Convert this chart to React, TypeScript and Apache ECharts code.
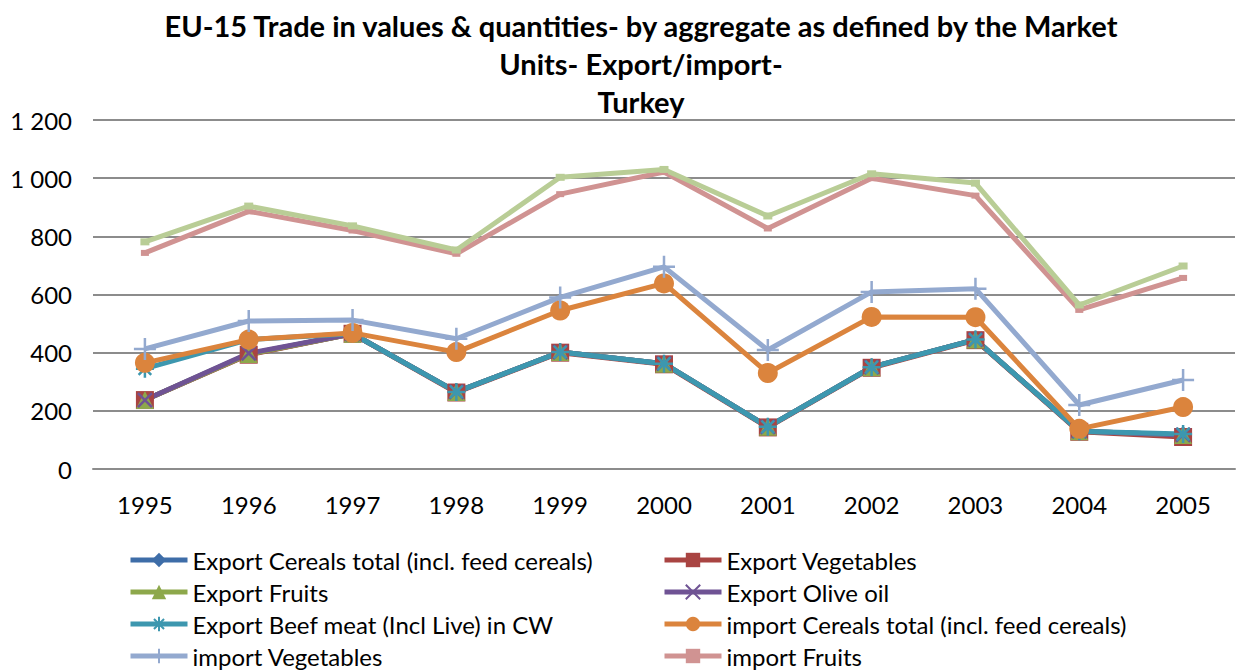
import React, { useEffect, useRef } from "react";
import * as echarts from "echarts";

const years = ["1995", "1996", "1997", "1998", "1999", "2000", "2001", "2002", "2003", "2004", "2005"];
const exportCereals = [237, 395, 465, 265, 402, 362, 145, 350, 445, 130, 117];
const exportVegetables = [237, 393, 465, 263, 400, 360, 143, 348, 443, 128, 110];
const exportFruits = [237, 395, 465, 265, 402, 362, 145, 350, 445, 130, 117];
const exportOliveOil = [237, 398, 465, 265, 402, 362, 145, 350, 445, 130, 117];
const exportBeef = [345, 445, 465, 265, 402, 362, 145, 350, 445, 130, 120];
const importCereals = [365, 445, 468, 402, 545, 638, 330, 523, 522, 138, 213];
const importVegetables = [413, 509, 512, 448, 590, 695, 409, 609, 620, 220, 306];
const importFruits = [743, 886, 820, 740, 945, 1021, 827, 1000, 940, 547, 657];
const importOliveOil = [781, 904, 836, 753, 1003, 1030, 870, 1015, 983, 564, 698];

const legendLeft = [
  "Export Cereals total (incl. feed cereals)",
  "Export Fruits",
  "Export Beef meat (Incl Live) in CW",
  "import Vegetables",
];
const legendRight = [
  "Export Vegetables",
  "Export Olive oil",
  "import Cereals total (incl. feed cereals)",
  "import Fruits",
];

const FONT = "Lato, 'Open Sans', sans-serif";

export default function App() {
  const ref = useRef<HTMLDivElement>(null);
  useEffect(() => {
    const chart = echarts.init(ref.current!, null, { renderer: "svg" });
    const mk = (name: string, data: number[], color: string, symbol: string, size: any, outline = false) => ({
      name,
      type: "line",
      data,
      symbol,
      symbolSize: size,
      showSymbol: symbol !== "none",
      lineStyle: { color, width: 5 },
      itemStyle: outline
        ? { color: "transparent", borderColor: color, borderWidth: 2.5 }
        : { color, borderColor: color, borderWidth: 0 },
    });
    const starPath = "path://M5,0L5,10M0,5L10,5M1.5,1.5L8.5,8.5M8.5,1.5L1.5,8.5";
    const plusPath = "path://M5,0L5,10M0,5L10,5";
    const xPath = "path://M0,0L10,10M10,0L0,10";
    const legendBase = {
      orient: "vertical",
      top: 543,
      height: 300,
      itemWidth: 57,
      itemHeight: 18,
      itemGap: 8,
      lineStyle: { width: 5 },
      textStyle: { fontFamily: FONT, fontSize: 24, color: "#000", lineHeight: 24 },
    };
    const option: any = {
      animation: false,
      backgroundColor: "#ffffff",
      title: {
        text: "EU-15 Trade in values & quantities- by aggregate as defined by the Market\nUnits- Export/import-\nTurkey",
        left: 636,
        textAlign: "center",
        top: 1,
        textStyle: { fontFamily: FONT, fontSize: 29, fontWeight: "bold", color: "#000", lineHeight: 38 },
      },
      grid: { left: 93, right: 3, top: 120, bottom: 203 },
      xAxis: {
        type: "category",
        data: years,
        boundaryGap: true,
        axisLine: { lineStyle: { color: "#8c8c8c", width: 2 } },
        axisTick: { show: false },
        axisLabel: { color: "#000", fontFamily: FONT, fontSize: 24, margin: 23 },
      },
      yAxis: {
        type: "value",
        min: 0,
        max: 1200,
        interval: 200,
        axisLine: { show: false },
        axisTick: { show: false },
        axisLabel: {
          color: "#000",
          fontFamily: FONT,
          fontSize: 24,
          margin: 21,
          formatter: (v: number) => (v >= 1000 ? String(v).replace(/(\d)(\d{3})$/, "$1 $2") : String(v)),
        },
        splitLine: { lineStyle: { color: "#8c8c8c", width: 2 } },
      },
      legend: [
        { ...legendBase, left: 123, data: legendLeft },
        { ...legendBase, left: 657, data: legendRight },
      ],
      series: [
        mk("Export Cereals total (incl. feed cereals)", exportCereals, "#3E6DA8", "diamond", 18),
        mk("Export Vegetables", exportVegetables, "#A94442", "rect", 18),
        mk("Export Fruits", exportFruits, "#8DA84B", "triangle", 18),
        mk("Export Olive oil", exportOliveOil, "#6F5394", xPath, 14, true),
        mk("Export Beef meat (Incl Live) in CW", exportBeef, "#3D97AF", starPath, 18, true),
        mk("import Cereals total (incl. feed cereals)", importCereals, "#DB843D", "circle", 20),
        mk("import Vegetables", importVegetables, "#93A9CF", plusPath, 22, true),
        mk("import Fruits", importFruits, "#D09392", "rect", [8, 6]),
        mk("import Olive oil", importOliveOil, "#B9CD96", "rect", [9, 7]),
      ],
    };
    chart.setOption(option);
    return () => chart.dispose();
  }, []);
  return <div ref={ref} style={{ width: 1238, height: 672, position: "absolute", left: 0, top: 0 }} />;
}
